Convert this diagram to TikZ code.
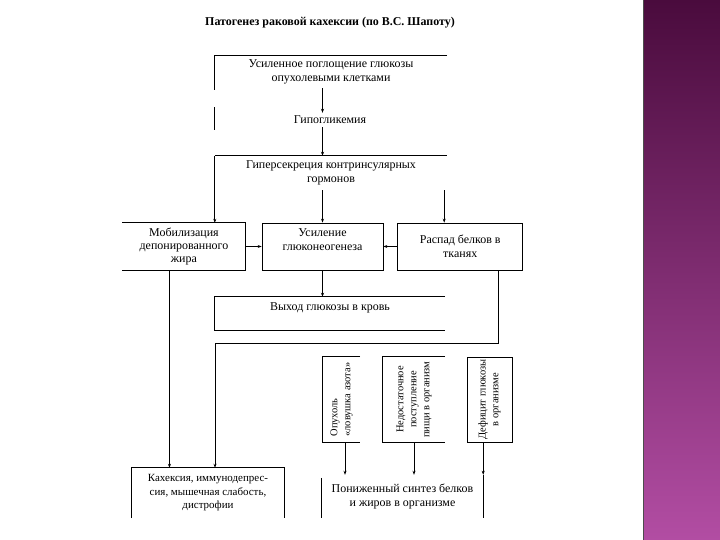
\documentclass[tikz,border=0pt]{standalone}
\usepackage{fontspec}
\setmainfont{Liberation Serif}
\usetikzlibrary{positioning,arrows.meta,calc}
\definecolor{bandtop}{HTML}{4A0B3D}
\definecolor{bandbot}{HTML}{B24DA3}

\begin{document}
\begin{tikzpicture}[x=1bp, y=1bp,
    boxtxt/.style 2 args={rectangle, minimum width=#1, minimum height=#2,
                          inner sep=0pt, align=center,
                          font=\fontsize{12}{14}\selectfont},
    vbox/.style={rectangle, minimum width=#1, minimum height=85bp, inner sep=0pt},
    vtxt/.style={rotate=90, inner sep=0pt, font=\fontsize{10.5}{13}\selectfont},
    edge/.style={line width=0.7bp},
    arrow/.style={-{Stealth[length=4bp, width=3bp]}, line width=0.7bp}
]
    \fill[white] (0,0) rectangle (720,540);
    \useasboundingbox (0,0) rectangle (720,540);
    \shade[top color=bandtop, bottom color=bandbot] (643,0) rectangle (720,540);
    \draw[line width=1.5bp, black!70] (643.5,0) -- (643.5,540);

    \node[font=\bfseries\fontsize{12}{14}\selectfont] (title) at (330,517)
        {Патогенез раковой кахексии (по В.С. Шапоту)};
    \node[boxtxt={232bp}{32bp}] (uptake) at (331,468)
        {Усиленное поглощение глюкозы\\опухолевыми клетками};
    \node[boxtxt={80bp}{14bp}] (hypo) at (330,420) {Гипогликемия};
    \node[boxtxt={232bp}{34bp}] (hyper) at (331,367)
        {Гиперсекреция контринсулярных\\гормонов};
    \node[boxtxt={121bp}{47bp}, draw, edge] (gluco) at (322.5,293.5)
        {Усиление\\глюконеогенеза\\\mbox{}};
    \node[boxtxt={123bp}{47bp}, left=16bp of gluco,
          font=\fontsize{12}{13}\selectfont] (mob)
        {Мобилизация\\депонированного\\жира};
    \node[boxtxt={125bp}{47bp}, draw, edge, right=14bp of gluco] (raspad)
        {Распад белков в\\тканях};
    \node[boxtxt={230bp}{33bp}] (vykhod) at (330,226.5)
        {Выход глюкозы в кровь\\\mbox{}};
    \coordinate (bend) at (215,197);

    \node[vbox=37bp] (nitro) at (341.5,140.5) {};
    \node[vtxt, align=left] (nitrotxt) at (nitro) {Опухоль\\«ловушка азота»};
    \node[vbox=62bp] (food) at (414,140.5) {};
    \node[vtxt, align=center] (foodtxt) at (food)
        {Недостаточное\\поступление\\пищи в организм};
    \node[vbox=45bp, draw, edge] (gdef) at (489.5,140.5) {};
    \node[vtxt, align=center] (gdeftxt) at (gdef) {Дефицит глюкозы\\в организме};

    \node[boxtxt={152bp}{50bp}, font=\fontsize{11}{13.5}\selectfont] (kakh) at (208,47)
        {Кахексия, иммунодепрес-\\сия, мышечная слабость,\\дистрофии};
    \node[boxtxt={161bp}{43bp}] (synth) at (402.5,43.5)
        {Пониженный синтез белков\\и жиров в организме};

    \draw[edge] (uptake.north east) -- (uptake.north west) -- ++(0,-34);
    \draw[edge] ([yshift=-19bp]uptake.south west) -- ++(0,-23);
    \draw[edge] (hyper.north west) -- (hyper.north east);
    \draw[edge] (mob.north west) -- (mob.north east) -- (mob.south east) -- (mob.south west);
    \draw[edge] (vykhod.north east) -- (vykhod.north west) -- (vykhod.south west) -- (vykhod.south east);
    \draw[edge] (nitro.north east) -- (nitro.north west) -- (nitro.south west) -- (nitro.south east);
    \draw[edge] (food.north east) -- (food.north west) -- (food.south west) -- (food.south east);
    \draw[edge] (kakh.south west) -- (kakh.north west) -- (kakh.north east) -- (kakh.south east);
    \draw[edge] ([yshift=-3bp]synth.north west) -- (synth.south west);
    \draw[edge] (synth.north east) -- (synth.south east);

    \draw[arrow] (uptake.south -| gluco) -- (hypo.north -| gluco);
    \draw[arrow] (hypo.south -| gluco) -- (hyper.north -| gluco);
    \draw[arrow] (hyper.north west) -- (hyper.north west |- mob.north);
    \draw[arrow] (hyper.south -| gluco) -- (gluco.north);
    \draw[arrow] ([xshift=-3bp]hyper.south east) -- ([xshift=-3bp]hyper.south east |- raspad.north);
    \draw[arrow] (mob.east) -- (gluco.west);
    \draw[arrow] (raspad.west) -- (gluco.east);
    \draw[arrow] (gluco.south) -- (vykhod.north -| gluco);
    \draw[arrow] ([xshift=-14.5bp]mob.south) -- ([xshift=-14.5bp]mob.south |- kakh.north);
    \draw[arrow] ([xshift=38.5bp]raspad.south) |- (bend) -- (bend |- kakh.north);
    \draw[arrow] ([xshift=3.5bp]nitro.south) -- ([xshift=3.5bp]nitro.south |- synth.north);
    \draw[arrow] (food.south) -- (food.south |- synth.north);
    \draw[arrow] (gdef.south -| synth.north east) -- (synth.north east);
\end{tikzpicture}
\end{document}
